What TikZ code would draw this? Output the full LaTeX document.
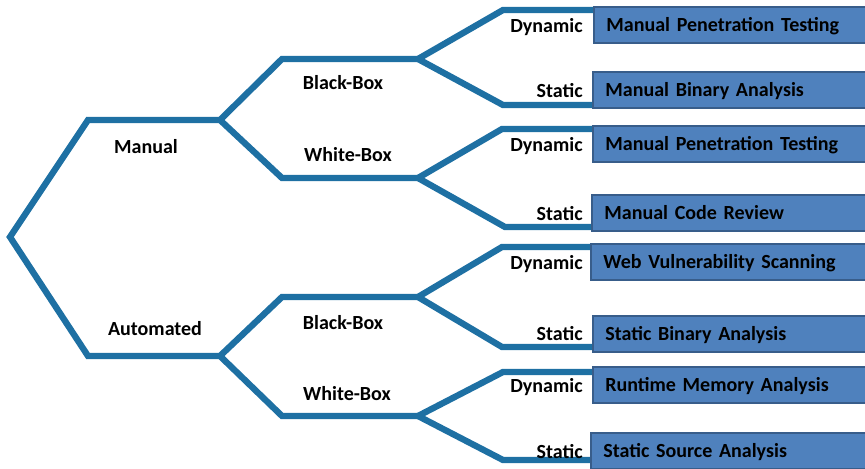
\documentclass[tikz,border=0pt]{standalone}
\usepackage{fontspec}
\setmainfont{Carlito}
\usepackage{tikz}
\usetikzlibrary{positioning}
\definecolor{cLine}{RGB}{30,112,163}
\definecolor{cBox}{RGB}{79,129,189}
\definecolor{cBoxEdge}{RGB}{56,93,138}
\tikzset{
  treeline/.style={draw=cLine,line width=3.6pt},
  lblfont/.style={font=\bfseries\fontsize{11.4}{13}\selectfont},
  leafnode/.style={rectangle,draw=cBoxEdge,fill=cBox,line width=1pt,anchor=west,
                   minimum width=5.9cm,minimum height=0.72cm,text width=5.4cm,
                   text height=7.3pt,text depth=0pt,
                   inner xsep=0.24cm,align=left,lblfont},
  catlabel/.style={lblfont,inner sep=0pt},
  kindlabel/.style={catlabel,anchor=east}
}
\begin{document}
\begin{tikzpicture}[x=0.02cm,y=-0.02cm]
  \clip (0,0) rectangle (865,469);

  % tree points
  \coordinate (root) at (10,237);
  \coordinate (mC) at (88,120);   \coordinate (mJ) at (220,120);
  \coordinate (aC) at (88,356);   \coordinate (aJ) at (220,356);
  \coordinate (mbC) at (282,59);  \coordinate (mbJ) at (418,59);
  \coordinate (mwC) at (282,178); \coordinate (mwJ) at (418,178);
  \coordinate (abC) at (282,297); \coordinate (abJ) at (418,297);
  \coordinate (awC) at (282,416); \coordinate (awJ) at (418,416);

  % leaf corners and ends (ends lie behind the boxes)
  \coordinate (c1) at (503,10);  \coordinate (e1) at (690,10);
  \coordinate (c2) at (503,105); \coordinate (e2) at (690,105);
  \coordinate (c3) at (502,129); \coordinate (e3) at (690,129);
  \coordinate (c4) at (505,227); \coordinate (e4) at (690,227);
  \coordinate (c5) at (502,247); \coordinate (e5) at (690,247);
  \coordinate (c6) at (502,347); \coordinate (e6) at (690,347);
  \coordinate (c7) at (503,372); \coordinate (e7) at (690,372);
  \coordinate (c8) at (503,460); \coordinate (e8) at (690,460);

  % branches
  \draw[treeline] (mJ) -- (mC) -- (root) -- (aC) -- (aJ);
  \draw[treeline] (mbJ) -- (mbC) -- (mJ) -- (mwC) -- (mwJ);
  \draw[treeline] (abJ) -- (abC) -- (aJ) -- (awC) -- (awJ);
  \draw[treeline] (e1) -- (c1) -- (mbJ) -- (c2) -- (e2);
  \draw[treeline] (e3) -- (c3) -- (mwJ) -- (c4) -- (e4);
  \draw[treeline] (e5) -- (c5) -- (abJ) -- (c6) -- (e6);
  \draw[treeline] (e7) -- (c7) -- (awJ) -- (c8) -- (e8);

  % leaf boxes
  \node[leafnode] (b1) at (593,25)  {Manual Penetration Testing};
  \node[leafnode] (b2) at (592,90)  {Manual Binary Analysis};
  \node[leafnode] (b3) at (592,144) {Manual Penetration Testing};
  \node[leafnode] (b4) at (591,213) {Manual Code Review};
  \node[leafnode] (b5) at (590,262) {Web Vulnerability Scanning};
  \node[leafnode] (b6) at (592,334) {Static Binary Analysis};
  \node[leafnode] (b7) at (592,385) {Runtime Memory Analysis};
  \node[leafnode] (b8) at (590,451) {Static Source Analysis};

  % labels
  \node[catlabel] (lManual) at (146,147) {Manual};
  \node[catlabel] (lAuto)   at (155,329) {Automated};
  \node[catlabel] (lMB) at (343,83)  {Black-Box};
  \node[catlabel] (lMW) at (348,155) {White-Box};
  \node[catlabel] (lAB) at (343,323) {Black-Box};
  \node[catlabel] (lAW) at (347,394) {White-Box};
  \node[kindlabel] (k1) at (583,27)  {Dynamic};
  \node[kindlabel] (k2) at (583,91)  {Static};
  \node[kindlabel] (k3) at (583,146) {Dynamic};
  \node[kindlabel] (k4) at (583,214) {Static};
  \node[kindlabel] (k5) at (583,264) {Dynamic};
  \node[kindlabel] (k6) at (583,334) {Static};
  \node[kindlabel] (k7) at (583,387) {Dynamic};
  \node[kindlabel] (k8) at (583,452) {Static};
\end{tikzpicture}
\end{document}
